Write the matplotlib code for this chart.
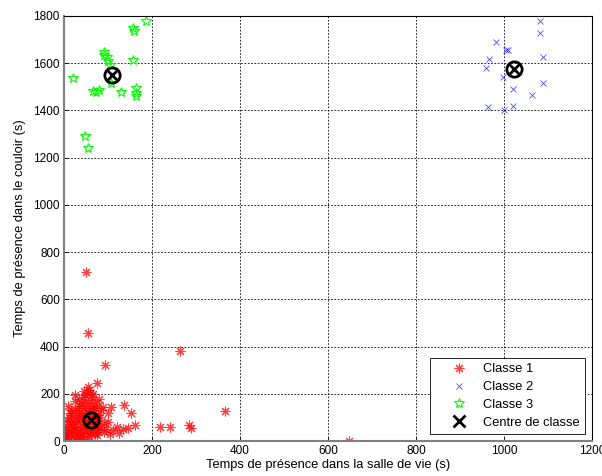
import matplotlib
matplotlib.use("Agg")
import matplotlib.pyplot as plt

plt.rcParams['font.family'] = ['Liberation Sans', 'DejaVu Sans']

# Classe 1 (red)
c1_x = [5, 8, 12, 15, 18, 20, 22, 25, 28, 30, 32, 35, 38, 40, 42, 45, 48, 50, 52, 55,
        58, 60, 62, 65, 68, 70, 72, 75, 78, 80, 10, 14, 3, 6, 9, 17, 24, 27, 33, 36,
        44, 46, 53, 57, 63, 66, 73, 76, 83, 85, 12, 20, 26, 30, 37, 41, 47, 51, 56, 60,
        64, 67, 70, 74, 2, 4, 7, 11, 16, 19, 23, 29, 31, 34, 39, 43, 49, 54, 59, 61,
        69, 71, 77, 82, 88, 92, 95, 25, 45, 55, 35, 60,
        90, 100, 112, 135, 161, 152, 137, 107, 99, 78, 120, 145, 125, 105,
        50, 54, 264, 94, 74, 57, 48, 365, 218, 242, 285, 289, 647]
c1_y = [10, 25, 5, 40, 60, 15, 80, 30, 100, 55, 8, 120, 70, 20, 90, 140, 45, 110, 10, 160,
        75, 130, 35, 175, 95, 60, 140, 25, 110, 180, 70, 120, 45, 90, 150, 130, 170, 5, 150, 40,
        60, 185, 50, 20, 150, 115, 85, 45, 130, 60, 100, 50, 130, 85, 15, 115, 165, 85, 120, 95,
        55, 200, 30, 160, 5, 30, 60, 35, 85, 110, 65, 40, 140, 100, 160, 30, 130, 70, 40, 185,
        140, 105, 70, 100, 145, 75, 50, 195, 210, 230, 180, 205,
        40, 82, 47, 49, 68, 117, 154, 145, 120, 47, 60, 55, 35, 30,
        717, 456, 383, 321, 247, 216, 195, 127, 61, 61, 69, 55, 1]

# Classe 2 (blue)
c2_x = [1081, 1081, 982, 1004, 1008, 1089, 965, 960, 997, 1089, 1020, 1064, 963, 1001, 1020]
c2_y = [1777, 1728, 1691, 1657, 1657, 1628, 1617, 1578, 1541, 1518, 1490, 1465, 1414, 1403, 1420]

# Classe 3 (green)
c3_x = [186, 157, 159, 91, 92, 97, 101, 157, 105, 20, 107, 65, 79, 72, 130, 163, 163, 163, 47, 54]
c3_y = [1777, 1749, 1735, 1647, 1636, 1626, 1610, 1614, 1593, 1538, 1518, 1484, 1487, 1480,
        1480, 1493, 1476, 1462, 1292, 1242]

# Centres de classe
centre_x = [62, 1022, 110]
centre_y = [89, 1575, 1550]

x_ticks = [0, 200, 400, 600, 800, 1000, 1200]
y_ticks = [0, 200, 400, 600, 800, 1000, 1200, 1400, 1600, 1800]

fig = plt.figure(figsize=(6.02, 4.76), dpi=100)
ax = fig.add_axes([64/602, 35/476, 528/602, 425/476])

ax.plot(c1_x, c1_y, marker=(8, 2, 0), color='#ff0000', markersize=7, markeredgewidth=0.8,
        linestyle='none', label='Classe 1', alpha=0.75)
ax.plot(c2_x, c2_y, 'x', color='#0000ff', markersize=4, markeredgewidth=0.6,
        linestyle='none', label='Classe 2', alpha=0.7)
ax.plot(c3_x, c3_y, '*', markerfacecolor='none', markeredgecolor='#00ff00', markersize=7,
        markeredgewidth=0.8, linestyle='none', label='Classe 3')
ax.plot(centre_x, centre_y, 'x', color='black', markersize=8, markeredgewidth=2,
        linestyle='none', label='Centre de classe')
ax.plot(centre_x, centre_y, 'o', markerfacecolor='none', markeredgecolor='black',
        markersize=11, markeredgewidth=2, linestyle='none')

ax.set_xlim(0, 1200)
ax.set_ylim(0, 1800)
ax.set_xticks(x_ticks)
ax.set_yticks(y_ticks)
ax.tick_params(direction='in', labelsize=8.5, length=3, width=0.6, pad=3)
ax.grid(True, color='black', linestyle=(0, (2, 2)), linewidth=0.6)
ax.set_axisbelow(True)

for s in ['left', 'bottom']:
    ax.spines[s].set_color('#808080')
    ax.spines[s].set_linewidth(1.5)
for s in ['top', 'right']:
    ax.spines[s].set_color('black')
    ax.spines[s].set_linewidth(0.8)

ax.set_xlabel('Temps de présence dans la salle de vie (s)', fontsize=9.3, labelpad=1)
ax.set_ylabel('Temps de présence dans le couloir (s)', fontsize=9.3, labelpad=5)

leg = ax.legend(loc='lower right', fontsize=9.3, fancybox=False, framealpha=1,
                edgecolor='black', borderaxespad=0.55, handlelength=3.6,
                handletextpad=0.1, borderpad=0.4, labelspacing=0.45)
leg.get_frame().set_linewidth(0.6)

fig.savefig('out.png', dpi=100)
